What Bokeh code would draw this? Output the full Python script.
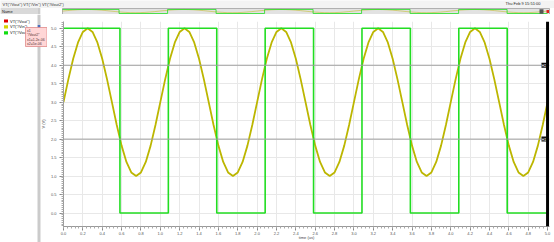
from bokeh.plotting import figure
from bokeh.layouts import column, row
from bokeh.models import (Range1d, SingleIntervalTicker, PrintfTickFormatter,
                          Span, Label)
from bokeh.core.properties import value
from bokeh.embed import file_html
from bokeh.resources import INLINE
import math

FONT = "Liberation Sans"

# ---------------- data ----------------
vin_t = [0.00, 0.05, 0.10, 0.15, 0.20, 0.25, 0.30, 0.35, 0.40, 0.45,
         0.50, 0.55, 0.60, 0.65, 0.70, 0.75, 0.80, 0.85, 0.90, 0.95,
         1.00, 1.05, 1.10, 1.15, 1.20, 1.25, 1.30, 1.35, 1.40, 1.45,
         1.50, 1.55, 1.60, 1.65, 1.70, 1.75, 1.80, 1.85, 1.90, 1.95,
         2.00, 2.05, 2.10, 2.15, 2.20, 2.25, 2.30, 2.35, 2.40, 2.45,
         2.50, 2.55, 2.60, 2.65, 2.70, 2.75, 2.80, 2.85, 2.90, 2.95,
         3.00, 3.05, 3.10, 3.15, 3.20, 3.25, 3.30, 3.35, 3.40, 3.45,
         3.50, 3.55, 3.60, 3.65, 3.70, 3.75, 3.80, 3.85, 3.90, 3.95,
         4.00, 4.05, 4.10, 4.15, 4.20, 4.25, 4.30, 4.35, 4.40, 4.45,
         4.50, 4.55, 4.60, 4.65, 4.70, 4.75, 4.80, 4.85, 4.90, 4.95,
         5.00]
vin_v = [3.0, 3.618, 4.176, 4.618, 4.902, 5.0, 4.902, 4.618, 4.176, 3.618,
         3.0, 2.382, 1.824, 1.382, 1.098, 1.0, 1.098, 1.382, 1.824, 2.382,
         3.0, 3.618, 4.176, 4.618, 4.902, 5.0, 4.902, 4.618, 4.176, 3.618,
         3.0, 2.382, 1.824, 1.382, 1.098, 1.0, 1.098, 1.382, 1.824, 2.382,
         3.0, 3.618, 4.176, 4.618, 4.902, 5.0, 4.902, 4.618, 4.176, 3.618,
         3.0, 2.382, 1.824, 1.382, 1.098, 1.0, 1.098, 1.382, 1.824, 2.382,
         3.0, 3.618, 4.176, 4.618, 4.902, 5.0, 4.902, 4.618, 4.176, 3.618,
         3.0, 2.382, 1.824, 1.382, 1.098, 1.0, 1.098, 1.382, 1.824, 2.382,
         3.0, 3.618, 4.176, 4.618, 4.902, 5.0, 4.902, 4.618, 4.176, 3.618,
         3.0, 2.382, 1.824, 1.382, 1.098, 1.0, 1.098, 1.382, 1.824, 2.382,
         3.0]

vout2_t = [0.0, 0.583, 1.083, 1.583, 2.083, 2.583, 3.083, 3.583, 4.083, 4.583, 5.0]
vout2_v = [5.0, 0.0, 5.0, 0.0, 5.0, 0.0, 5.0, 0.0, 5.0, 0.0, 0.0]

legend_names = ['VT("/Vout")', 'VT("/Vin")', 'VT("/Vout2")']
legend_colors = ["#e00000", "#d4d400", "#11dd11"]
header_text = 'VT("/Vout") VT("/Vin") VT("/Vout2")'
date_text = "Thu Feb 9 15:51:00"
tooltip_lines = ["x1", '"/Vout2"', "x1=1.2e-06", "x2=5e-06"]
x_label = "time (us)"
y_label = "V (V)"
h_markers = [4.0, 2.0]
h_marker_labels = ["H2", "H1"]
v_marker = 5.0

SINE_COLOR = "#bcb600"
SQUARE_COLOR = "#22dd22"

# ---------------- geometry (page pixels) ----------------
W, H = 554, 242
TOP_H = 14
LEFT_W = 47
RIGHT_W = W - LEFT_W
FRAME_L, FRAME_R = 62, 549
FRAME_T, FRAME_B = 21, 226
MAIN_H = H - TOP_H
Y_PPU = 36.94              # pixels per volt
Y_ZERO = 212.5             # page y of 0 V
y_range = Range1d(-(FRAME_B - Y_ZERO) / Y_PPU, (Y_ZERO - FRAME_T) / Y_PPU)

X0, X1 = 0.0, 5.02
PPU = (FRAME_R - FRAME_L) / (X1 - X0)
x_range = Range1d(X0, X1)


def chrome_fig(w, h, y0, y1, bg):
    f = figure(width=w, height=h, x_range=Range1d(0, w), y_range=Range1d(y1, y0),
               toolbar_location=None, output_backend="svg",
               x_axis_location=None, y_axis_location=None, frame_align=False,
               min_border_left=0, min_border_right=0, min_border_top=0, min_border_bottom=0)
    f.grid.visible = False
    f.outline_line_color = None
    f.background_fill_color = bg
    f.border_fill_color = bg
    return f


def put_text(f, x, y, text, size="4px", color="#222222", align="left", angle=0.0):
    f.text(x=[x], y=[y], text=[text], text_font=value(FONT), text_font_size=size,
           text_color=color, text_align=align, text_baseline="middle", angle=angle)


# ---------------- top strip: header + overview ----------------
top = chrome_fig(W, TOP_H, 0, TOP_H, "#f3f3f3")
top.quad(left=[0], right=[37], top=[7.5], bottom=[14], fill_color="#d9d9d9", line_color=None)
top.quad(left=[37], right=[40], top=[7.5], bottom=[14], fill_color="#cbcbcb", line_color=None)
top.quad(left=[40], right=[W], top=[7.5], bottom=[14], fill_color="white", line_color=None)
top.quad(left=[FRAME_L], right=[FRAME_R], top=[8], bottom=[14], fill_color="#e2e2e2",
         line_color="#a0a0a0", line_width=0.8)
put_text(top, 1.5, 10.8, "Name", color="#222222")
put_text(top, 2, 3.6, header_text, color="#333333")
put_text(top, 505, 3.4, date_text, color="#222222")

# overview miniature waveforms through extra ranges mapped onto the strip
OV_Y_TOP, OV_Y_BOT = 5.6, -0.6
ov_ppu = (13.5 - 8.5) / (OV_Y_TOP - OV_Y_BOT)
ov_y_start = OV_Y_BOT - (TOP_H - 13.5) / ov_ppu
top.extra_x_ranges = {"ovx": Range1d(X0 - FRAME_L / PPU, X0 + (W - FRAME_L) / PPU)}
top.extra_y_ranges = {"ovy": Range1d(ov_y_start, ov_y_start + TOP_H / ov_ppu)}
top.line(vin_t, vin_v, line_color=SINE_COLOR, line_width=0.6, line_alpha=0.8,
         x_range_name="ovx", y_range_name="ovy")
top.step(vout2_t, vout2_v, mode="after", line_color=SQUARE_COLOR, line_width=0.8,
         x_range_name="ovx", y_range_name="ovy")
top.quad(left=[539], right=[543], top=[8.7], bottom=[13.3], fill_color="#555555", line_color=None)
top.quad(left=[546], right=[548.5], top=[9.5], bottom=[12.5], fill_color="#e02020", line_color=None)

# ---------------- left panel ----------------
left = chrome_fig(LEFT_W, H - TOP_H, TOP_H, H, "white")
left.quad(left=[37], right=[40], top=[TOP_H], bottom=[H], fill_color="#cbcbcb", line_color=None)
for i, (name, col) in enumerate(zip(legend_names, legend_colors)):
    yy = 20.5 + i * 5.9
    left.quad(left=[3.5], right=[7.5], top=[yy - 1.6], bottom=[yy + 1.6], fill_color=col,
              line_color=None)
    put_text(left, 9.5, yy, name)
left.quad(left=[37.2], right=[39.8], top=[24.6], bottom=[27.4], fill_color="#4a6fc0",
          line_color=None)
left.quad(left=[25], right=[46.5], top=[27], bottom=[46], fill_color="#ffd6d6",
          line_color="#e08a8a", line_width=0.8)
for j, t in enumerate(tooltip_lines):
    put_text(left, 26.5, 30 + j * 4.6, t, size="3.5px", color="#553333")
put_text(left, 43, 123.5, y_label, color="#444444", align="center", angle=math.pi / 2)

# ---------------- main plot ----------------
p = figure(width=RIGHT_W, height=MAIN_H, x_range=x_range, y_range=y_range,
           toolbar_location=None, output_backend="svg", frame_align=False,
           min_border_left=FRAME_L - LEFT_W, min_border_right=W - FRAME_R,
           min_border_top=FRAME_T - TOP_H, min_border_bottom=H - FRAME_B)
p.background_fill_color = "white"
p.border_fill_color = "white"
p.outline_line_color = None

p.xaxis.ticker = SingleIntervalTicker(interval=0.2, num_minor_ticks=5)
p.yaxis.ticker = SingleIntervalTicker(interval=0.5, num_minor_ticks=10)
p.xaxis.formatter = PrintfTickFormatter(format="%.1f")
p.yaxis.formatter = PrintfTickFormatter(format="%.1f")
for ax in (p.xaxis, p.yaxis):
    ax.major_label_text_font = FONT
    ax.major_label_text_font_size = "4px"
    ax.major_label_text_color = "#555555"
    ax.axis_line_color = "#999999"
    ax.major_tick_line_color = "#888888"
    ax.minor_tick_line_color = "#aaaaaa"
    ax.major_tick_in = 0
    ax.minor_tick_in = 0
    ax.minor_tick_out = 2
p.yaxis.major_tick_out = 4
p.yaxis.major_label_standoff = 3
p.xaxis.major_tick_out = 4
p.xaxis.major_label_standoff = 1
p.xaxis.axis_label = x_label
p.xaxis.axis_label_text_font = FONT
p.xaxis.axis_label_text_font_size = "4px"
p.xaxis.axis_label_text_font_style = "normal"
p.xaxis.axis_label_text_color = "#444444"
p.xaxis.axis_label_standoff = -3

p.xgrid.grid_line_color = "#e8e8e8"
p.ygrid.grid_line_color = "#e8e8e8"

for loc, txt in zip(h_markers, h_marker_labels):
    p.add_layout(Span(location=loc, dimension="width", line_color="#a0a0a0", line_width=1))
    p.add_layout(Label(x=v_marker, y=loc, text=txt, text_font=FONT, text_font_size="4px",
                       text_color="white", background_fill_color="#111111",
                       text_align="right", text_baseline="middle", x_offset=-1))

p.line(vin_t, vin_v, line_color=SINE_COLOR, line_width=1.8)
p.step(vout2_t, vout2_v, mode="after", line_color=SQUARE_COLOR, line_width=1.6)

p.add_layout(Span(location=v_marker, dimension="height", line_color="black", line_width=3))

layout = column(top, row(left, p, spacing=0), spacing=0)
open("out.html", "w").write(file_html(layout, INLINE))
